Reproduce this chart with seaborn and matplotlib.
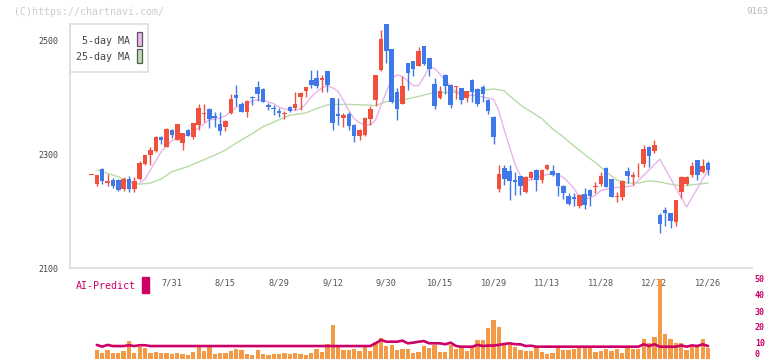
import numpy as np
import pandas as pd
import matplotlib
matplotlib.use("Agg")
import matplotlib.pyplot as plt
from matplotlib.patches import Rectangle
import seaborn as sns

# daily candles, index 0..115 (trading days)
opens = [2263, 2247, 2273, 2249, 2254, 2254, 2239, 2257, 2239, 2256,
         2282, 2298, 2305, 2330, 2313, 2342, 2325, 2320, 2342, 2330,
         2351, 2370, 2379, 2367, 2352, 2348, 2372, 2403, 2387, 2374,
         2400, 2417, 2414, 2386, 2381, 2375, 2370, 2383, 2380, 2400,
         2411, 2430, 2433, 2429, 2445, 2398, 2371, 2364, 2371, 2351,
         2332, 2333, 2361, 2395, 2447, 2528, 2484, 2408, 2388, 2459,
         2463, 2455, 2489, 2468, 2423, 2399, 2439, 2421, 2417, 2415,
         2399, 2430, 2414, 2418, 2395, 2365, 2239, 2275, 2270, 2254,
         2261, 2233, 2258, 2272, 2254, 2274, 2270, 2266, 2244, 2227,
         2225, 2209, 2230, 2237, 2242, 2247, 2276, 2256, 2225, 2225,
         2271, 2259, 2273, 2282, 2313, 2306, 2193, 2201, 2196, 2181,
         2234, 2247, 2263, 2289, 2269, 2285]
highs = [2263, 2263, 2276, 2265, 2258, 2256, 2260, 2262, 2260, 2287,
         2299, 2312, 2331, 2331, 2345, 2343, 2353, 2337, 2343, 2355,
         2388, 2388, 2380, 2374, 2374, 2359, 2405, 2421, 2391, 2394,
         2401, 2428, 2415, 2390, 2386, 2381, 2375, 2385, 2409, 2408,
         2418, 2447, 2447, 2438, 2446, 2399, 2398, 2372, 2373, 2353,
         2344, 2365, 2384, 2439, 2518, 2528, 2485, 2416, 2436, 2460,
         2464, 2488, 2490, 2469, 2433, 2420, 2440, 2422, 2420, 2416,
         2411, 2431, 2415, 2421, 2396, 2366, 2280, 2281, 2281, 2269,
         2262, 2261, 2270, 2273, 2273, 2282, 2280, 2267, 2245, 2232,
         2232, 2229, 2240, 2238, 2251, 2268, 2277, 2257, 2234, 2254,
         2277, 2269, 2284, 2316, 2314, 2325, 2197, 2207, 2197, 2219,
         2261, 2262, 2286, 2290, 2291, 2287]
lows = [2263, 2243, 2247, 2243, 2240, 2235, 2235, 2233, 2233, 2255,
        2280, 2281, 2303, 2317, 2312, 2328, 2324, 2307, 2331, 2327,
        2342, 2356, 2345, 2348, 2333, 2341, 2371, 2385, 2373, 2365,
        2386, 2393, 2391, 2378, 2369, 2365, 2362, 2373, 2377, 2377,
        2400, 2416, 2416, 2408, 2408, 2342, 2351, 2348, 2342, 2321,
        2325, 2332, 2351, 2385, 2445, 2459, 2390, 2360, 2387, 2412,
        2436, 2454, 2457, 2437, 2379, 2396, 2406, 2381, 2396, 2388,
        2392, 2392, 2385, 2392, 2370, 2318, 2233, 2246, 2219, 2228,
        2228, 2232, 2256, 2235, 2250, 2272, 2261, 2227, 2221, 2211,
        2209, 2206, 2204, 2209, 2231, 2243, 2242, 2225, 2216, 2219,
        2249, 2246, 2260, 2278, 2277, 2301, 2162, 2174, 2170, 2174,
        2223, 2245, 2260, 2254, 2266, 2264]
closes = [2263, 2263, 2252, 2252, 2243, 2237, 2257, 2239, 2252, 2285,
          2298, 2307, 2330, 2324, 2344, 2333, 2352, 2336, 2332, 2354,
          2381, 2370, 2361, 2364, 2341, 2358, 2396, 2399, 2374, 2393,
          2398, 2405, 2392, 2382, 2379, 2372, 2370, 2375, 2387, 2407,
          2417, 2421, 2420, 2433, 2421, 2354, 2366, 2368, 2349, 2332,
          2342, 2364, 2379, 2438, 2502, 2481, 2391, 2379, 2419, 2442,
          2449, 2480, 2458, 2449, 2385, 2411, 2420, 2386, 2417, 2394,
          2411, 2408, 2387, 2405, 2376, 2329, 2265, 2256, 2253, 2251,
          2243, 2260, 2268, 2254, 2272, 2280, 2264, 2243, 2231, 2213,
          2221, 2228, 2211, 2227, 2242, 2261, 2242, 2225, 2225, 2253,
          2261, 2263, 2273, 2309, 2297, 2315, 2178, 2197, 2182, 2219,
          2260, 2259, 2279, 2263, 2279, 2272]

# moving averages (day index, price)
ma5_x = [9, 10, 11, 12, 13, 14, 15, 16, 17, 18, 19, 20, 21, 22, 23, 24, 25, 26, 27, 28,
         29, 30, 31, 32, 33, 34, 35, 36, 37, 38, 39, 40, 41, 42, 43, 44, 45, 46, 47, 48,
         49, 50, 51, 52, 53, 54, 55, 56, 57, 58, 59, 60, 61, 62, 63, 64, 65, 66, 67, 68,
         69, 70, 71, 72, 73, 74, 75, 76, 77, 78, 79, 80, 81, 82, 83, 84, 85, 86, 87, 88,
         89, 90, 91, 92, 93, 94, 95, 96, 97, 98, 99, 100, 101, 106, 111, 115]
ma5_y = [2249, 2256, 2272, 2288, 2304, 2314, 2323, 2328, 2332, 2333, 2339, 2346, 2353, 2360,
         2361, 2363, 2367, 2374, 2382, 2386, 2389, 2393, 2395, 2395, 2391, 2388, 2382, 2379,
         2377, 2377, 2379, 2388, 2400, 2409, 2416, 2420, 2416, 2410, 2394, 2376, 2362, 2355,
         2351, 2351, 2360, 2385, 2409, 2432, 2439, 2436, 2428, 2420, 2420, 2435, 2452, 2450,
         2440, 2428, 2418, 2408, 2404, 2403, 2403, 2402, 2400, 2398, 2396, 2375, 2342, 2312,
         2282, 2262, 2255, 2254, 2258, 2262, 2264, 2266, 2264, 2259, 2250, 2240, 2224, 2221,
         2223, 2228, 2236, 2238, 2240, 2241, 2242, 2243, 2244, 2291, 2207, 2272]
ma25_x = [1, 3, 5, 7, 9, 10, 11, 13, 15, 18, 20, 23, 25, 27, 30, 32, 35, 37, 40, 42,
          44, 45, 48, 51, 53, 55, 58, 61, 64, 67, 70, 73, 75, 77, 78, 80, 82, 84, 86, 88,
          90, 92, 94, 96, 98, 100, 102, 104, 106, 108, 110, 112, 115]
ma25_y = [2272, 2266, 2260, 2251, 2247, 2248, 2249, 2256, 2269, 2278, 2286, 2298, 2307, 2319,
          2336, 2348, 2360, 2368, 2372, 2380, 2386, 2387, 2387, 2386, 2385, 2392, 2395, 2401,
          2408, 2408, 2409, 2412, 2414, 2411, 2402, 2386, 2374, 2362, 2344, 2330, 2314, 2299,
          2285, 2269, 2254, 2249, 2249, 2253, 2251, 2247, 2244, 2246, 2249]

# lower panel
volume = [0, 5.6, 3.8, 5.6, 3.8, 3.8, 5.0, 11.3, 3.8, 7.3,
          6.9, 3.8, 4.4, 3.8, 3.8, 3.1, 3.8, 3.1, 2.5, 4.4,
          7.3, 5.0, 7.3, 3.1, 3.8, 3.8, 5.0, 6.3, 5.6, 3.1,
          2.5, 5.6, 3.1, 2.5, 3.1, 3.1, 3.8, 3.1, 3.8, 3.1,
          2.5, 3.8, 6.3, 4.4, 9.4, 21.3, 7.3, 5.6, 5.6, 6.3,
          5.0, 7.3, 5.0, 10.6, 13.1, 7.9, 8.5, 5.6, 6.3, 6.3,
          3.5, 4.6, 8.1, 6.7, 8.8, 4.6, 4.6, 8.8, 6.3, 7.3,
          5.2, 7.3, 11.9, 11.9, 19.4, 24.4, 19.8, 8.8, 8.8, 7.3,
          5.6, 5.2, 5.2, 7.7, 4.4, 3.1, 4.0, 7.3, 5.6, 5.6,
          6.3, 7.3, 7.3, 7.3, 4.6, 5.2, 6.3, 5.2, 6.3, 3.5,
          7.3, 6.5, 6.5, 12.5, 9.8, 14.0, 50.0, 15.6, 12.5, 10.2,
          10.2, 5.6, 7.3, 7.3, 12.5, 7.1]
ai_predict = [8.8, 7.7, 8.8, 8.1, 8.1, 8.1, 8.6, 8.1, 8.6, 8.6,
              8.1, 8.1, 8.1, 8.1, 8.1, 8.1, 8.1, 8.1, 8.1, 8.1,
              8.1, 8.1, 8.1, 8.1, 8.1, 8.1, 8.1, 8.1, 8.1, 8.1,
              8.1, 8.1, 8.1, 8.1, 8.1, 8.1, 8.1, 8.1, 8.1, 8.1,
              8.1, 8.1, 8.1, 8.1, 8.1, 8.1, 8.1, 8.1, 8.1, 8.1,
              8.1, 8.1, 9.8, 11.9, 10.8, 10.8, 10.8, 11.5, 9.8, 10.2,
              10.8, 11.2, 9.8, 9.8, 9.8, 9.2, 10.2, 8.1, 7.7, 7.7,
              7.7, 8.8, 8.1, 8.4, 8.4, 8.8, 9.4, 9.8, 9.2, 9.2,
              8.1, 8.3, 7.7, 7.7, 7.7, 7.7, 7.7, 7.7, 7.7, 7.7,
              7.7, 7.7, 7.7, 7.7, 7.7, 7.7, 7.7, 7.7, 7.7, 7.7,
              7.7, 7.7, 9.2, 8.1, 9.2, 7.7, 7.7, 7.7, 7.7, 8.5,
              7.7, 8.5, 8.1, 9.2, 8.1]

date_labels = ['7/31', '8/15', '8/29', '9/12', '9/30', '10/15',
               '10/29', '11/13', '11/28', '12/12', '12/26']
date_pos = [15, 25, 35, 45, 55, 65, 75, 85, 95, 105, 115]
price_ticks = [2100, 2300, 2500]
sub_ticks = [0, 10, 20, 30, 40, 50]

UP, DOWN = '#f0503c', '#3f78e8'
MAGENTA = '#cc0066'
GRID = '#dddddd'

sns.set_style('white')
plt.rcParams['font.family'] = ['DejaVu Sans Mono']

df = pd.DataFrame({'o': opens, 'h': highs, 'l': lows, 'c': closes})
df['day'] = np.arange(len(df))
df['color'] = np.where(df.c >= df.o, UP, DOWN)

W, H = 772, 361
fig = plt.figure(figsize=(W / 100, H / 100), dpi=100)
ax = fig.add_axes([70 / W, 1 - 268 / H, 682 / W, 244 / H])
ax2 = fig.add_axes([70 / W, 1 - 359 / H, 682 / W, 80 / H])
xlim = (-4.0, 123.2)


def px_box(x, y, w, h, **kw):
    # rectangle given in picture pixels (top-left origin)
    fig.patches.append(Rectangle((x / W, 1 - (y + h) / H), w / W, h / H,
                                 transform=fig.transFigure, **kw))


# candles
ax.vlines(df.day, df.l, df.h, colors=df.color, lw=1, zorder=3)
body = (df.c - df.o).abs().clip(lower=1.5)
ax.bar(df.day, body, bottom=df[['o', 'c']].min(axis=1), width=0.85,
       color=df.color, zorder=4, linewidth=0)

sns.lineplot(x=ma25_x, y=ma25_y, ax=ax, color='#b6dca8', lw=1, zorder=2)
sns.lineplot(x=ma5_x, y=ma5_y, ax=ax, color='#e8b4ec', lw=1, zorder=2)

ax.set_xlim(*xlim)
ax.set_ylim(2100, 2100 + 244 / 0.57)
for s in ['top', 'right']:
    ax.spines[s].set_visible(False)
for s in ['left', 'bottom']:
    ax.spines[s].set_color(GRID)
    ax.spines[s].set_linewidth(1.3)
ax.set_yticks(price_ticks)
ax.set_yticklabels([str(t) for t in price_ticks])
ax.tick_params(axis='y', length=4, width=1, color=GRID, labelsize=6,
               labelcolor='#444444', pad=4)
ax.set_xticks(np.linspace(xlim[0], xlim[1], 12))
ax.set_xticklabels([])
ax.tick_params(axis='x', direction='inout', length=6, width=1.3, color=GRID)
ax.set_xlabel('')
ax.set_ylabel('')

trans = matplotlib.transforms.blended_transform_factory(ax.transData, ax.transAxes)
for p, lab in zip(date_pos, date_labels):
    ax.text(p, -15 / 244, lab, transform=trans, ha='center', va='center',
            fontsize=6.2, color='#555555', clip_on=False)

# MA legend box (text left, colour swatch right)
px_box(70, 24, 78, 48, facecolor='white', edgecolor=GRID, lw=1.2, zorder=5)
px_box(136.7, 31.5, 5.6, 14.5, facecolor='#f0b8f0', edgecolor='#555555', lw=0.9, zorder=6)
px_box(136.7, 48.5, 5.6, 14.5, facecolor='#b8e0b0', edgecolor='#555555', lw=0.9, zorder=6)
for lab, yy in [('5-day MA', 40.5), ('25-day MA', 56.5)]:
    fig.text(130 / W, 1 - yy / H, lab, color='#444444', fontsize=7.2,
             ha='right', va='center', zorder=7)

# lower panel: volume bars and AI-Predict line
ax2.patch.set_visible(False)
ax2.bar(df.day, volume, width=0.8, color='#f29a46', linewidth=0, zorder=2)
sns.lineplot(x=np.arange(1, len(df)), y=ai_predict, ax=ax2, color=MAGENTA,
             lw=1.9, zorder=3)
ax2.set_xlim(*xlim)
ax2.set_ylim(0, 50)
for s in ax2.spines.values():
    s.set_visible(False)
ax2.set_xticks([])
ax2.yaxis.tick_right()
ax2.set_yticks(sub_ticks)
ax2.set_yticklabels([str(t) for t in sub_ticks])
ax2.tick_params(axis='y', length=0, pad=2, labelsize=6, labelcolor=MAGENTA)
for t in ax2.get_yticklabels():
    t.set_fontweight('bold')
ax2.get_yticklabels()[0].set_va('bottom')
ax2.set_xlabel('')
ax2.set_ylabel('')

fig.text(76 / W, 1 - 286 / H, 'AI-Predict', color=MAGENTA, fontsize=7.2,
         ha='left', va='center')
px_box(142, 277, 7, 16, color=MAGENTA)

fig.text(14 / W, 1 - 12 / H, '(C)https://chartnavi.com/', color='#cccccc',
         fontsize=7.1, ha='left', va='center')
fig.text(768 / W, 1 - 11 / H, '9163', color='#bbbbbb', fontsize=6.6,
         ha='right', va='center')

fig.savefig('out.png', dpi=100)
